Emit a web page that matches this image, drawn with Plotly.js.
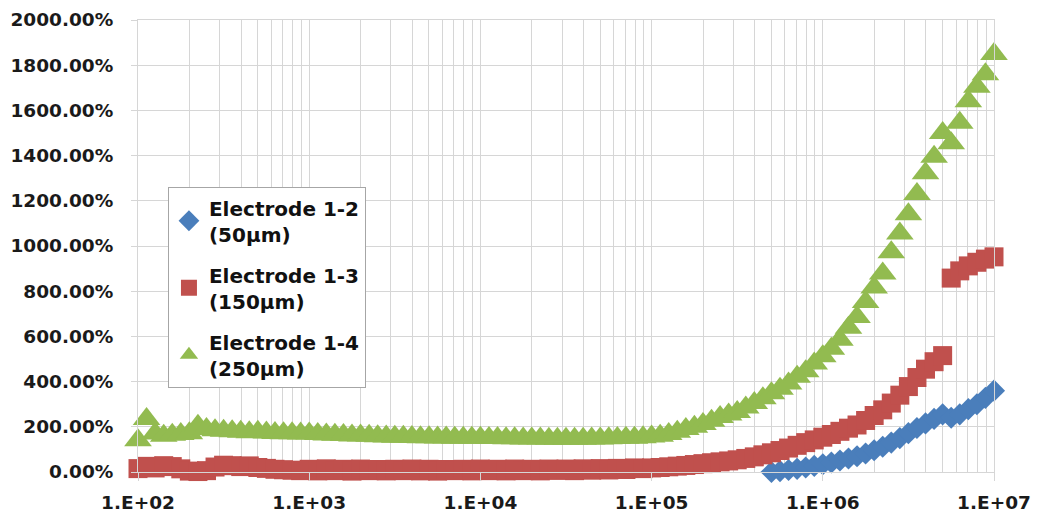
<!DOCTYPE html>
<html>
<head>
<meta charset="utf-8">
<script src="https://cdn.plot.ly/plotly-3.0.1.min.js"></script>
<style>
  html, body { margin: 0; padding: 0; background: #ffffff; }
  #chart { width: 1037px; height: 516px; }
</style>
</head>
<body>
<div id="chart"></div>
<script>
// Frequency sweep (Hz), 20 points per decade, 1.E+02 .. 1.E+07
const freq = [
  100, 112.2, 125.9, 141.3, 158.5, 177.8, 199.5, 223.9, 251.2, 281.8,
  316.2, 354.8, 398.1, 446.7, 501.2, 562.3, 631.0, 707.9, 794.3, 891.3,
  1000, 1122, 1259, 1413, 1585, 1778, 1995, 2239, 2512, 2818,
  3162, 3548, 3981, 4467, 5012, 5623, 6310, 7079, 7943, 8913,
  10000, 11220, 12589, 14125, 15849, 17783, 19953, 22387, 25119, 28184,
  31623, 35481, 39811, 44668, 50119, 56234, 63096, 70795, 79433, 89125,
  100000, 112202, 125893, 141254, 158489, 177828, 199526, 223872, 251189, 281838,
  316228, 354813, 398107, 446684, 501187, 562341, 630957, 707946, 794328, 891251,
  1000000, 1122018, 1258925, 1412538, 1584893, 1778279, 1995262, 2238721, 2511886, 2818383,
  3162278, 3548134, 3981072, 4466836, 5011872, 5623413, 6309573, 7079458, 7943282, 8912509,
  10000000
];

// Electrode 1-2 (50µm): visible from ~5.0E+05 upward
const freqE12 = [
  501187, 562341, 630957, 707946, 794328, 891251,
  1000000, 1122018, 1258925, 1412538, 1584893, 1778279, 1995262, 2238721, 2511886, 2818383,
  3162278, 3548134, 3981072, 4466836, 5011872, 5623413, 6309573, 7079458, 7943282, 8912509,
  10000000
];
const e12 = [
  0, 4, 9, 14, 20, 27,
  34, 42, 51, 60, 70, 82, 96, 112, 130, 150,
  172, 195, 215, 235, 255, 240, 255, 278, 300, 328,
  360
];

// Electrode 1-3 (150µm)
const e13 = [
  15, 25, 18, 28, 24, 14, 4, 2, 6, 22,
  30, 28, 24, 27, 20, 16, 12, 10, 8, 6,
  12, 5, 14, 6, 12, 4, 13, 6, 11, 5,
  12, 6, 13, 5, 12, 4, 11, 6, 12, 5,
  13, 6, 12, 5, 13, 6, 12, 5, 13, 7,
  13, 6, 14, 8, 15, 9, 16, 11, 18, 15,
  18, 20, 23, 26, 29, 33, 37, 41, 45, 49,
  54, 60, 67, 76, 85, 95, 106, 118, 130, 142,
  154, 166, 180, 194, 208, 228, 250, 275, 305, 340,
  378, 418, 455, 488, 515, 858, 890, 912, 928, 942,
  952
];

// Electrode 1-4 (250µm)
const e14 = [
  140, 235, 170, 160, 165, 168, 172, 205, 190, 185,
  182, 180, 178, 176, 178, 175, 173, 172, 172, 170,
  170, 168, 166, 165, 164, 162, 161, 160, 158, 157,
  156, 156, 155, 154, 154, 153, 153, 152, 152, 151,
  151, 150, 150, 149, 149, 148, 148, 148, 147, 147,
  147, 147, 147, 148, 148, 149, 150, 151, 152, 154,
  157, 160, 168, 178, 190, 200, 212, 227, 243, 254,
  266, 285, 305, 326, 349, 368, 392, 421, 446, 480,
  512, 545, 585, 638, 686, 752, 816, 878, 972, 1055,
  1140, 1230, 1322, 1395, 1500, 1455, 1545, 1640, 1705, 1760,
  1850
];

const seriesNames = ['Electrode 1-2<br>(50µm)', 'Electrode 1-3<br>(150µm)', 'Electrode 1-4<br>(250µm)'];
const xTickVals = [100, 1000, 10000, 100000, 1000000, 10000000];
const xTickText = ['1.E+02', '1.E+03', '1.E+04', '1.E+05', '1.E+06', '1.E+07'];
const xMinorVals = [200,300,400,500,600,700,800,900,
  2000,3000,4000,5000,6000,7000,8000,9000,
  20000,30000,40000,50000,60000,70000,80000,90000,
  200000,300000,400000,500000,600000,700000,800000,900000,
  2000000,3000000,4000000,5000000,6000000,7000000,8000000,9000000];

const gridCol = '#d6d6d6';
const tickFont = {family: 'DejaVu Sans', size: 18.5, color: '#1a1a1a', weight: 'bold'};

const traces = [
  {x: freqE12, y: e12, name: seriesNames[0], legendgroup: 'a', type: 'scatter', mode: 'markers',
   cliponaxis: false,
   marker: {symbol: 'diamond', size: 17, color: '#4a7ebb', line: {width: 0}}},
  {x: freq, y: e13, name: seriesNames[1], legendgroup: 'b', type: 'scatter', mode: 'markers',
   cliponaxis: false,
   marker: {symbol: 'square', size: 19, color: '#c0504d', line: {width: 0}}},
  {x: freq, y: e14, name: seriesNames[2], legendgroup: 'c', type: 'scatter', mode: 'markers',
   cliponaxis: false,
   marker: {symbol: 'triangle-up', size: 24, color: '#92bb50', line: {width: 0}}}
];

const layout = {
  width: 1037, height: 516,
  margin: {l: 138, r: 43, t: 20, b: 44, pad: 0},
  paper_bgcolor: '#ffffff', plot_bgcolor: '#ffffff',
  showlegend: true,
  legend: {
    x: 0.035, y: 0.63, xanchor: 'left', yanchor: 'top',
    bgcolor: '#ffffff', bordercolor: '#a6a6a6', borderwidth: 1,
    font: {family: 'DejaVu Sans', size: 20, color: '#111111', weight: 'bold'},
    traceorder: 'grouped', tracegroupgap: 12,
    itemwidth: 30
  },
  xaxis: {
    type: 'log', range: [2, 7],
    tickmode: 'array', tickvals: xTickVals, ticktext: xTickText,
    showgrid: true, gridcolor: gridCol, gridwidth: 1,
    ticks: 'outside', ticklen: 8, tickcolor: gridCol,
    ticklabelstandoff: 6,
    tickfont: tickFont,
    showline: true, linecolor: gridCol, linewidth: 1, mirror: true,
    zeroline: false,
    minor: {tickmode: 'array', tickvals: xMinorVals, showgrid: true, gridcolor: gridCol, ticks: ''}
  },
  yaxis: {
    range: [0, 2000], dtick: 200, tick0: 0,
    tickformat: '.2f', ticksuffix: '%',
    showgrid: true, gridcolor: gridCol, gridwidth: 1,
    ticks: 'outside', ticklen: 6, tickcolor: gridCol,
    ticklabelstandoff: 14,
    tickfont: tickFont,
    showline: true, linecolor: gridCol, linewidth: 1, mirror: true,
    zeroline: false
  }
};

Plotly.newPlot('chart', traces, layout, {displayModeBar: false, staticPlot: true});
</script>
</body>
</html>
